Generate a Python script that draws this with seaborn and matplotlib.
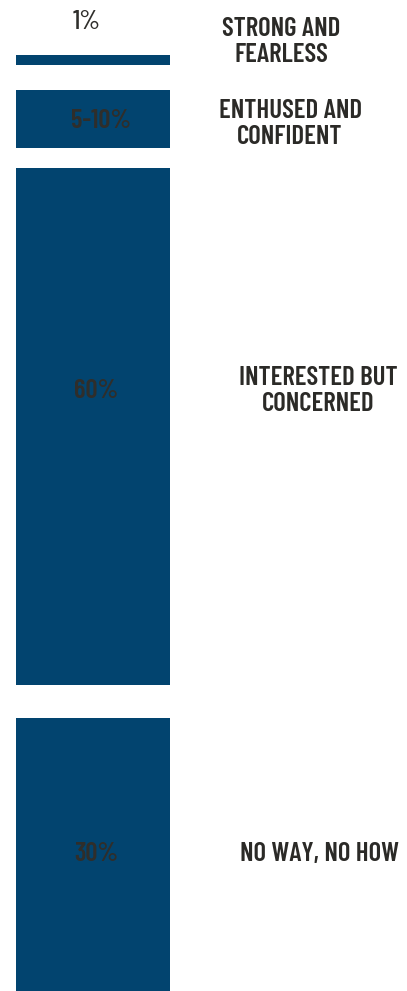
import numpy as np
import seaborn as sns
import matplotlib
matplotlib.use("Agg")
import matplotlib.pyplot as plt

# four types of cyclists
groups = ["STRONG AND\nFEARLESS", "ENTHUSED AND\nCONFIDENT", "INTERESTED BUT\nCONCERNED", "NO WAY, NO HOW"]
pct_labels = ["1%", "5-10%", "60%", "30%"]
# bar lengths as drawn (share of population)
shares = [1.2, 6.7, 60.0, 31.7]

# layout: space above each bar, in the same units
gaps = [6.4, 2.9, 2.3, 3.8]
total = sum(gaps) + sum(shares)

sns.set_style("white")
plt.rcParams["font.family"] = ["Barlow Condensed", "Roboto Condensed", "DejaVu Sans"]

fig = plt.figure(figsize=(4.07, 9.91), dpi=100)
ax = fig.add_axes([0, 0, 1, 1])

bottoms = np.cumsum(gaps) + np.concatenate([[0], np.cumsum(shares)[:-1]])
ax.bar([0.5] * 4, shares, bottom=bottoms, width=1.0, color="#02446f", linewidth=0)

px = total / 991  # data units per pixel
centers = bottoms + np.array(shares) / 2
name_x = [1.72, 1.78, 1.96, 1.97]
name_dy = [-18, 5, -35.5, -0.5]
pct_x = [0.46, 0.55, 0.52, 0.52]
pct_dy = [-38, 2, -35.5, -0.5]
for i in range(4):
    ax.text(name_x[i], centers[i] + name_dy[i] * px, groups[i], ha="center", va="center",
            fontsize=19.3, fontweight="semibold", color="#2b2a27", linespacing=1.1)
    ax.text(pct_x[i], centers[i] + pct_dy[i] * px, pct_labels[i], ha="center", va="center",
            fontsize=19.3, fontweight="semibold" if i > 0 else "medium", color="#2f2e2b")

ax.set_xlim(-16 / 154, 391 / 154)
ax.set_ylim(total, 0)
ax.axis("off")
fig.savefig("out.png", dpi=100, facecolor="white")
